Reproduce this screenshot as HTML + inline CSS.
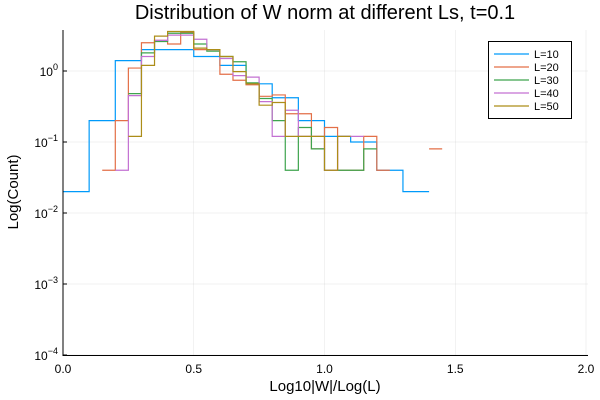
<!DOCTYPE html>
<html><head><meta charset="utf-8"><style>
body{margin:0;background:#fff}
svg{display:block;font-family:"Liberation Sans","DejaVu Sans",sans-serif}
</style></head><body>
<svg id="chart" width="600" height="400" viewBox="0 0 600 400" xmlns="http://www.w3.org/2000/svg">
<rect width="600" height="400" fill="#fff"/>
<text x="325" y="19" font-size="20" text-anchor="middle" fill="#000">Distribution of W norm at different Ls, t=0.1</text>
<text x="325" y="391" font-size="15" text-anchor="middle">Log10|W|/Log(L)</text>
<text transform="translate(18,192) rotate(-90)" font-size="15" text-anchor="middle">Log(Count)</text>
<g id="grid"></g><g id="ticks"></g><g id="series"></g>
<line x1="63" y1="30" x2="63" y2="355.5" stroke="#000" stroke-width="1"/>
<line x1="62.5" y1="355.5" x2="588" y2="355.5" stroke="#000" stroke-width="1"/>
<g id="legend">
<rect x="488.5" y="41.5" width="83" height="77" fill="#fff" stroke="#000" stroke-width="1"/>
</g>
</svg>
<script>
const xTicks=[0,0.5,1.0,1.5,2.0];
const xTickLabels=["0.0","0.5","1.0","1.5","2.0"];
const yTickExps=[0,-1,-2,-3,-4];
const seriesNames=["L=10","L=20","L=30","L=40","L=50"];
const seriesColors=["#009AFA","#E36F47","#3EA44E","#C371D2","#AC8D18"];
const binStarts=[0,0,0.25,0.2,0.25];
const binWidths=[0.1,0.05,0.05,0.05,0.05];
const s10=[0.02,0.2,1.4,2.0,2.0,1.6,1.2,0.66,0.42,0.2,0.12,0.1,0.04,0.02];
const s20=[0,0,0,0.04,0.2,1.1,2.5,2.7,2.4,3.5,2.0,2.0,0.9,0.74,0.64,0.44,0.46,0.25,0.25,0.08,0.16,0.04,0.04,0.12,0.04,0,0,0,0.08];
const s30=[0.48,1.8,2.6,3.4,3.4,2.4,1.9,1.6,1.35,0.68,0.41,0.2,0.04,0.16,0.08,0.04,0.04,0.04,0.08];
const s40=[0.04,0.45,1.6,2.7,3.2,3.2,2.8,2.0,1.5,0.86,0.82,0.37,0.12,0.28,0.12,0.12,0.04,0.12,0.12];
const s50=[0.12,1.2,3.1,3.6,3.6,2.1,2.0,1.6,0.98,0.66,0.33,0.36,0.12,0.12,0.12,0.04,0.12];
const allSeries=[s10,s20,s30,s40,s50];
const NS="http://www.w3.org/2000/svg";
const X0=63,X1=586,Y0=71,DEC=71;
function xs(v){return X0+(X1-X0)*v/2;}
function ys(v){return Y0-DEC*Math.log10(v);}
function mk(t,a,p){const e=document.createElementNS(NS,t);for(const k in a)e.setAttribute(k,a[k]);p.appendChild(e);return e;}
const grid=document.getElementById('grid'),ticks=document.getElementById('ticks');
xTicks.forEach((t,i)=>{
 const l=mk('line',{x1:xs(t),x2:xs(t),y1:30,y2:355,stroke:'#000','stroke-opacity':0.1,'stroke-width':0.5},grid);
 
 
 const tx=mk('text',{x:xs(t),y:373,'font-size':12,'text-anchor':'middle'},ticks);
 tx.textContent=xTickLabels[i];
 
 
});
yTickExps.forEach(e=>{
 const y=ys(Math.pow(10,e));
 const l=mk('line',{x1:63,x2:588,y1:y,y2:y,stroke:'#000','stroke-opacity':0.1,'stroke-width':0.5},grid);
 
 
 mk('line',{x1:63,x2:67,y1:y,y2:y,stroke:'#000','stroke-width':1},ticks);
 const tx=mk('text',{x:58,y:y+5,'font-size':12,'text-anchor':'end'},ticks);
 tx.innerHTML='10<tspan dy="-6" font-size="9">'+(e===0?'0':'\u2212'+(-e))+'</tspan>';
 
 
});
const sg=document.getElementById('series');
allSeries.forEach((data,si)=>{
 let d='',prev=0;
 data.forEach((v,i)=>{
  const a=binStarts[si]+i*binWidths[si],b=a+binWidths[si];
  if(v>0){
   if(prev>0) d+=' L'+xs(a)+' '+ys(v); else d+=' M'+xs(a)+' '+ys(v);
   d+=' L'+xs(b)+' '+ys(v);
  }
  prev=v;
 });
 const p=mk('path',{d:d,fill:'none',stroke:seriesColors[si],'stroke-width':1.2},sg);
 
 
});
const lg=document.getElementById('legend');
seriesNames.forEach((n,i)=>{
 const y=54+i*13;
 const l=mk('line',{x1:494,x2:529,y1:y,y2:y,stroke:seriesColors[i],'stroke-width':1.2},lg);
 
 
 const t=mk('text',{x:534,y:y+4,'font-size':11},lg);
 t.textContent=n;
 
 
});
</script>
</body></html>
